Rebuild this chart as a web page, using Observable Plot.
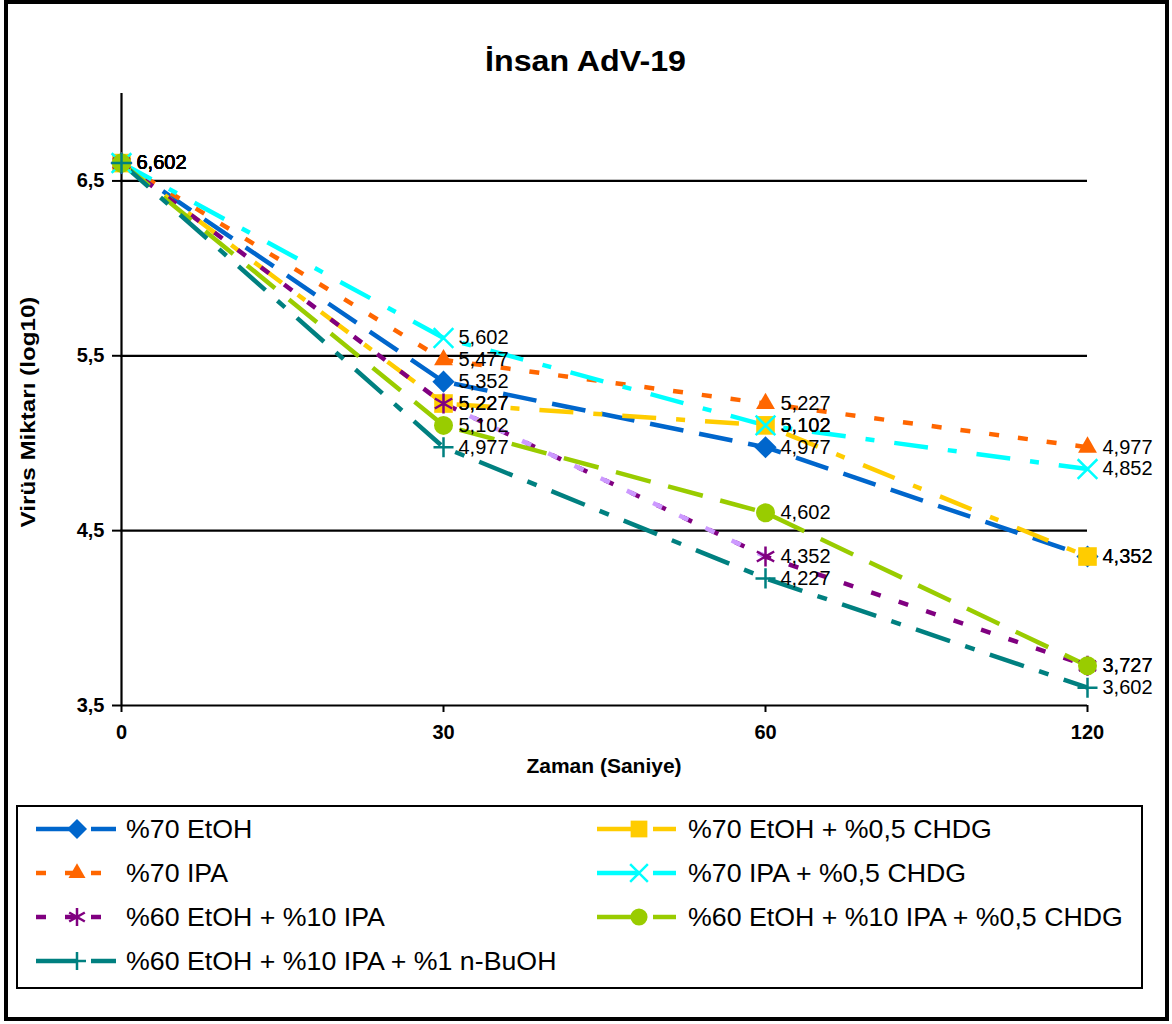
<!DOCTYPE html>
<html>
<head>
<meta charset="utf-8">
<script src="https://cdn.jsdelivr.net/npm/d3@7"></script>
<script src="https://cdn.jsdelivr.net/npm/@observablehq/plot@0.6"></script>
<style>
  html, body { margin: 0; padding: 0; background: #fff; }
  #page { position: relative; width: 1172px; height: 1024px; font-family: Arial, "Liberation Sans", sans-serif; overflow: hidden; }
  #border { position: absolute; left: 4px; top: 0px; width: 1165px; height: 1021px; box-sizing: border-box; border: 4px solid #000; }
  #title { position: absolute; left: 0; top: 47px; width: 1172px; text-align: center; }
  #title span { display: inline-block; font-size: 29px; line-height: 29px; font-weight: bold; color: #000; transform: scaleX(1.11); }
  #ytitle { position: absolute; left: 28px; top: 412px; white-space: nowrap; font-size: 20px; line-height: 20px; font-weight: bold; color: #000;
            transform: translate(-50%, -50%) rotate(-90deg) scaleX(1.21); }
  #chart { position: absolute; left: 0; top: 0; }
  #legend { position: absolute; left: 16px; top: 805px; width: 1127px; height: 184px; box-sizing: border-box; border: 2px solid #000; }
  #legend svg { position: absolute; left: -2px; top: -2px; }
</style>
</head>
<body>
<div id="page">
  <div id="border"></div>
  <div id="chart"></div>
  <div id="title"><span id="titleText"></span></div>
  <div id="ytitle"></div>
  <div id="legend"></div>
</div>
<script>
// ---- data ----
const chartTitle = "İnsan AdV-19";
const times = ["0", "30", "60", "120"];
const seriesNames = [
  "%70 EtOH",
  "%70 EtOH + %0,5 CHDG",
  "%70 IPA",
  "%70 IPA + %0,5 CHDG",
  "%60 EtOH + %10 IPA",
  "%60 EtOH + %10 IPA + %0,5 CHDG",
  "%60 EtOH + %10 IPA + %1 n-BuOH"
];
const etoh70 = [6.602, 5.352, 4.977, 4.352];
const etoh70Chdg = [6.602, 5.227, 5.102, 4.352];
const ipa70 = [6.602, 5.477, 5.227, 4.977];
const ipa70Chdg = [6.602, 5.602, 5.102, 4.852];
const etoh60ipa10 = [6.602, 5.227, 4.352, 3.727];
const etoh60ipa10Chdg = [6.602, 5.102, 4.602, 3.727];
const etoh60ipa10Buoh = [6.602, 4.977, 4.227, 3.602];
const seriesValues = [etoh70, etoh70Chdg, ipa70, ipa70Chdg, etoh60ipa10, etoh60ipa10Chdg, etoh60ipa10Buoh];
const yTicks = [3.5, 4.5, 5.5, 6.5];
const gridValues = [4.5, 5.5, 6.5];
const yDomain = [3.5, 7];
const xTitle = "Zaman (Saniye)";
const yTitle = "Virüs Miktarı (log10)";

// ---- styles ----
const styles = [
  {color: "#0066CC", dash: "34,16", symbol: "diamond2", d3sym: d3.symbolDiamond2, r: 10, filled: true},
  {color: "#FFCC00", dash: "34,20,9,20", symbol: "square", d3sym: d3.symbolSquare, r: 10.5, filled: true},
  {color: "#FF6600", dash: "10,19", symbol: "triangle", d3sym: d3.symbolTriangle, r: 7, filled: true},
  {color: "#00FFFF", dash: "34,20,9,20", symbol: "times", d3sym: d3.symbolTimes, r: 9, filled: false},
  {color: "#800080", dash: "10,19", symbol: "asterisk", d3sym: d3.symbolAsterisk, r: 9.5, filled: false},
  {color: "#99CC00", dash: "36,18", symbol: "circle", d3sym: d3.symbolCircle, r: 9.5, filled: true},
  {color: "#008080", dash: "36,16,10,16", symbol: "plus", d3sym: d3.symbolPlus, r: 6.5, filled: false}
];
const segmentColor = "#CC99FF"; // 30 -> 60 segment of "%60 EtOH + %10 IPA"

document.getElementById("titleText").textContent = chartTitle;
document.getElementById("ytitle").textContent = yTitle;

const rows = [];
seriesNames.forEach((name, i) => {
  seriesValues[i].forEach((v, j) => rows.push({series: name, si: i, t: times[j], v}));
});

const fmt3 = v => v.toFixed(3).replace(".", ",");
const fmt1 = v => v.toFixed(1).replace(".", ",");

const marks = [];
marks.push(Plot.ruleY(gridValues, {stroke: "#000", strokeWidth: 2.2}));
marks.push(Plot.ruleY([yDomain[0]], {stroke: "#000", strokeWidth: 2.2}));
marks.push(Plot.ruleX([times[0]], {y1: yDomain[0], y2: yDomain[1], stroke: "#000", strokeWidth: 2.2}));

seriesNames.forEach((name, i) => {
  const s = styles[i];
  const data = rows.filter(d => d.si === i);
  marks.push(Plot.line(data, {x: "t", y: "v", stroke: s.color, strokeWidth: 4.5, strokeDasharray: s.dash, strokeLinecap: "butt", strokeLinejoin: "round"}));
  if (i === 4) {
    marks.push(Plot.line(data.filter(d => d.t === "30" || d.t === "60"), {x: "t", y: "v", stroke: segmentColor, strokeWidth: 4.5, strokeDasharray: s.dash, strokeLinecap: "butt"}));
  }
});
seriesNames.forEach((name, i) => {
  const s = styles[i];
  const data = rows.filter(d => d.si === i);
  if (s.filled) {
    marks.push(Plot.dot(data, {x: "t", y: "v", symbol: s.symbol, r: s.r, fill: s.color, stroke: "none"}));
  } else {
    marks.push(Plot.dot(data, {x: "t", y: "v", symbol: s.symbol, r: s.r, fill: "none", stroke: s.color, strokeWidth: 2.5}));
  }
});
marks.push(Plot.text(rows, {x: "t", y: "v", text: d => fmt3(d.v), dx: 15, textAnchor: "start", fontSize: 20, fill: "#000"}));

marks.push(Plot.axisX({tickSize: 7, tickPadding: 12, fontSize: 20, fontWeight: "bold", strokeWidth: 2, label: null}));
marks.push(Plot.axisY({ticks: yTicks, tickSize: 8, tickPadding: 8, tickFormat: fmt1, fontSize: 20, fontWeight: "bold", strokeWidth: 2, label: null}));
marks.push(Plot.text([xTitle], {frameAnchor: "bottom", dy: 67, fontSize: 21, fontWeight: "bold", fill: "#000"}));

const chart = Plot.plot({
  width: 1172,
  height: 790,
  marginLeft: 120,
  marginRight: 85,
  marginTop: 93,
  marginBottom: 85,
  x: {type: "point", domain: times, padding: 0},
  y: {domain: yDomain},
  style: {fontFamily: 'Arial, "Liberation Sans", sans-serif', color: "#000", background: "transparent", overflow: "visible"},
  marks
});
document.getElementById("chart").appendChild(chart);

// ---- legend ----
const legend = d3.select("#legend").append("svg").attr("width", 1127).attr("height", 184)
  .style("font-family", 'Arial, "Liberation Sans", sans-serif');
const rowY = [24, 68, 112, 156];
const colX = [[20, 100], [581, 660]];
const markerX = [61, 623];
const colText = [110, 672];
seriesNames.forEach((name, i) => {
  const s = styles[i];
  const col = i % 2, row = Math.floor(i / 2);
  const [x0, x1] = colX[col];
  const y = rowY[row];
  const g = legend.append("g");
  // solid lead-in up to the marker, then the series' dash pattern after it
  g.append("line").attr("x1", x0).attr("x2", markerX[col]).attr("y1", y).attr("y2", y)
    .attr("stroke", s.color).attr("stroke-width", 4.5)
    .attr("stroke-dasharray", s.dash.split(",").length > 2 || +s.dash.split(",")[0] > 20 ? null : s.dash);
  g.append("line").attr("x1", markerX[col] + 14).attr("x2", x1).attr("y1", y).attr("y2", y)
    .attr("stroke", s.color).attr("stroke-width", 4.5).attr("stroke-dasharray", s.dash);
  const r = s.r * 0.9;
  g.append("path").attr("transform", `translate(${markerX[col]},${y})`)
    .attr("d", d3.symbol().type(s.d3sym).size(Math.PI * r * r)())
    .attr("fill", s.filled ? s.color : "none")
    .attr("stroke", s.filled ? "none" : s.color)
    .attr("stroke-width", s.filled ? 0 : 2.5);
  g.append("text").attr("transform", `translate(${colText[col]},${y}) scale(1.07,1)`).attr("dy", "0.35em")
    .attr("font-size", 25).attr("fill", "#000").text(name);
});
</script>
</body>
</html>
